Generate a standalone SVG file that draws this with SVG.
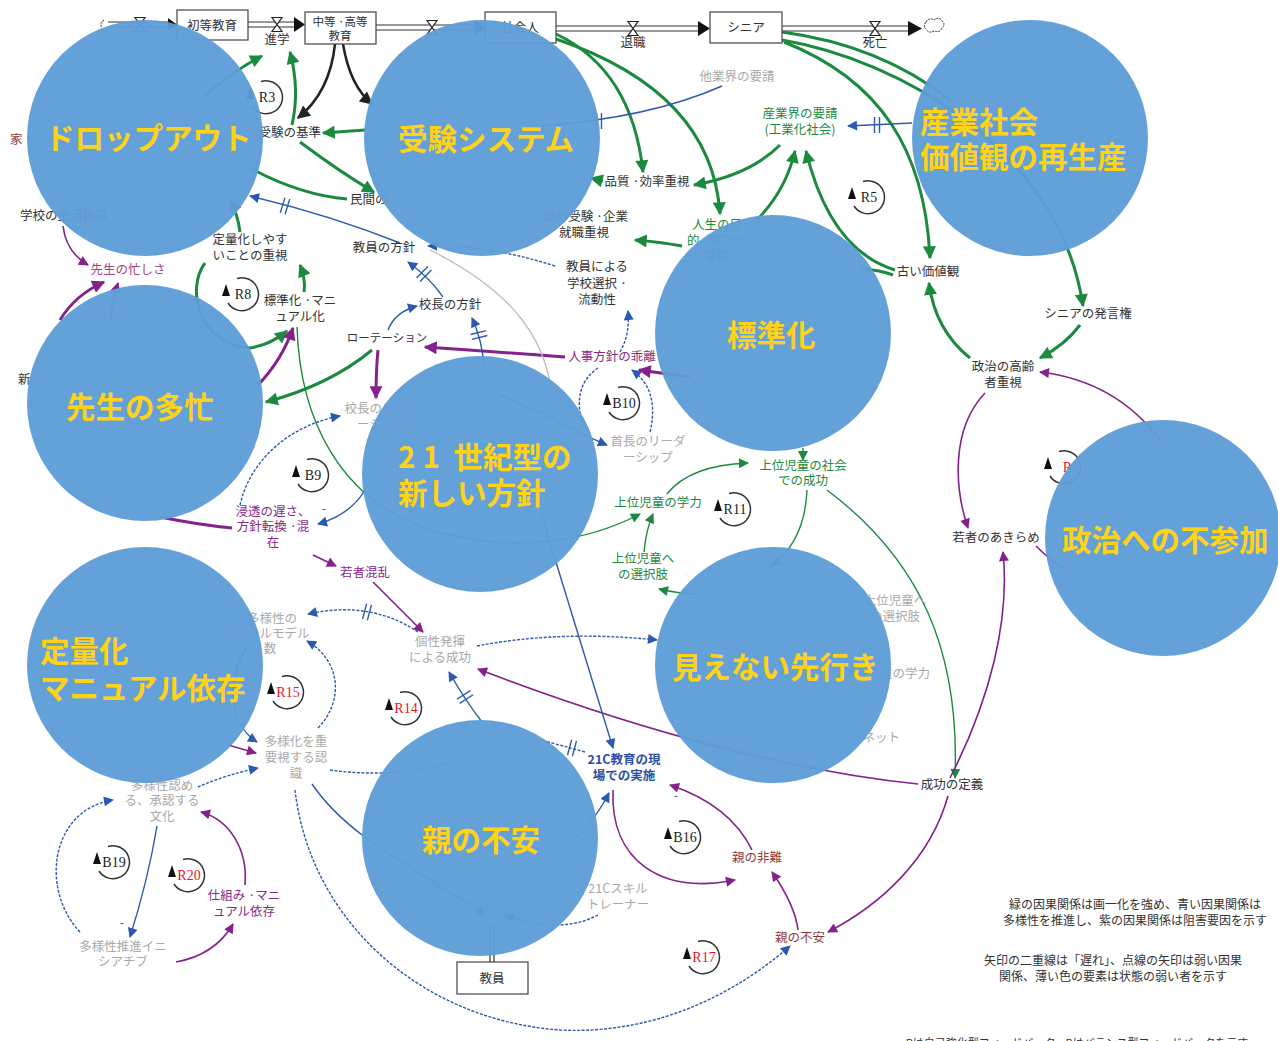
<svg xmlns="http://www.w3.org/2000/svg" xmlns:xlink="http://www.w3.org/1999/xlink" width="1278" height="1041" viewBox="0 0 1278 1041">
<style>
.t{font-family:"Noto Sans CJK JP","Noto Sans",sans-serif;font-size:12.5px;fill:#333;text-anchor:middle}
.s{text-anchor:start}.e{text-anchor:end}
.g{fill:#1b8a3e}.p{fill:#862a8a}.gr{fill:#a9a9a9}.dr{fill:#8b3a3a}.bl{fill:#2b4fa0;font-weight:700}.mv{fill:#a2467f}
.lt{font-family:"Liberation Serif",serif;font-size:14px;text-anchor:middle;fill:#222}
.red{fill:#e8191e}
.box{fill:#fff;stroke:#444;stroke-width:1.2}
.pipe{stroke:#333;stroke-width:1.2;fill:none}
.valve{fill:#fff;stroke:#222;stroke-width:1.2}
.lg{fill:none;stroke:#1b8a3e;stroke-width:3}
.lgt{fill:none;stroke:#1b8a3e;stroke-width:1.4}
.lb{fill:none;stroke:#2c59b0;stroke-width:1.4}
.dash{stroke-dasharray:3 1.5}
.lp{fill:none;stroke:#84218b;stroke-width:3}
.lpt{fill:none;stroke:#84218b;stroke-width:1.6}
.lk{fill:none;stroke:#222;stroke-width:2.5}
.lgray{fill:none;stroke:#bdbdbd;stroke-width:1.3}
.circ{fill:#5e9dd6;fill-opacity:0.96}
.big{font-family:"Noto Sans CJK JP","Noto Sans",sans-serif;font-weight:700;font-size:29.5px;fill:#FFD21A}
.leg{font-family:"Noto Sans CJK JP","Noto Sans",sans-serif;font-size:12px;fill:#333;text-anchor:middle}
</style>
<defs>
<marker id="ag" viewBox="0 0 10 10" refX="9" refY="5" markerWidth="15" markerHeight="13" orient="auto" markerUnits="userSpaceOnUse"><path d="M0,0 L10,5 L0,10 z" fill="#1b8a3e"/></marker>
<marker id="agt" viewBox="0 0 10 10" refX="9" refY="5" markerWidth="12" markerHeight="10" orient="auto" markerUnits="userSpaceOnUse"><path d="M0,0 L10,5 L0,10 z" fill="#1b8a3e"/></marker>
<marker id="ab" viewBox="0 0 10 10" refX="9" refY="5" markerWidth="12" markerHeight="10" orient="auto" markerUnits="userSpaceOnUse"><path d="M0,0 L10,5 L0,10 z" fill="#2c59b0"/></marker>
<marker id="ap" viewBox="0 0 10 10" refX="9" refY="5" markerWidth="15" markerHeight="13" orient="auto" markerUnits="userSpaceOnUse"><path d="M0,0 L10,5 L0,10 z" fill="#84218b"/></marker>
<marker id="apt" viewBox="0 0 10 10" refX="9" refY="5" markerWidth="12" markerHeight="10" orient="auto" markerUnits="userSpaceOnUse"><path d="M0,0 L10,5 L0,10 z" fill="#84218b"/></marker>
<marker id="ak" viewBox="0 0 10 10" refX="9" refY="5" markerWidth="15" markerHeight="13" orient="auto" markerUnits="userSpaceOnUse"><path d="M0,0 L10,5 L0,10 z" fill="#222"/></marker>
<g id="loop"><path d="M -13 9 A 16.5 16.5 0 1 0 -4 -15.5" fill="none" stroke="#333" stroke-width="1.5"/><path d="M -19 2 L -11 2 L -15 -10 z" fill="#111"/></g>
<g id="bar"><path d="M -2.5 -8 L -2.5 8 M 2.5 -8 L 2.5 8" stroke="#2c59b0" stroke-width="1.4" fill="none"/></g>
<path id="valveShape" d="M -5 -7 L 5 -7 L -5 7 L 5 7 Z"/>
</defs>

<rect width="1278" height="1041" fill="#fff"/>

<g id="connectors">
  <path class="pipe" d="M 108 22 L 170 22 M 108 27 L 170 27"/>
  <path d="M 168 18 L 177 24.5 L 168 31 z" fill="#111"/>
  <path class="pipe" d="M 248 22 L 297 22 M 248 27 L 297 27"/>
  <path d="M 294 17 L 305 24.5 L 294 32 z" fill="#111"/>
  <path class="pipe" d="M 376 25 L 477 25 M 376 30 L 477 30"/>
  <path d="M 475 20 L 485 27.5 L 475 35 z" fill="#111"/>
  <path class="pipe" d="M 556 26 L 700 26 M 556 31 L 700 31"/>
  <path d="M 698 21 L 710 28.5 L 698 36 z" fill="#111"/>
  <path class="pipe" d="M 782 26 L 912 26 M 782 31 L 912 31"/>
  <path d="M 908 21 L 922 28.5 L 908 36 z" fill="#111"/>
  <use href="#valveShape" class="valve" x="140" y="24.5"/>
  <use href="#valveShape" class="valve" x="277" y="24.5"/>
  <use href="#valveShape" class="valve" x="432" y="27.5"/>
  <use href="#valveShape" class="valve" x="633" y="28.5"/>
  <use href="#valveShape" class="valve" x="875" y="28.5"/>
  <path d="M 926 22 q 3 -5 8 -2 q 5 -4 8 1 q 4 3 0 7 q -2 5 -8 3 q -5 3 -8 -2 q -3 -3 0 -7 z" fill="#fff" stroke="#333" stroke-width="1" stroke-dasharray="2 1"/>
  <path d="M 104 20 q -5 3 -2 8" fill="none" stroke="#333" stroke-width="1" stroke-dasharray="2 1"/>

  <path class="lg" d="M 205 95 Q 238 68 262 56" marker-end="url(#ag)"/>
  <path class="lg" d="M 292 125 Q 300 90 290 52" marker-end="url(#ag)"/>
  <path class="lk" d="M 335 44 Q 330 92 298 118" marker-end="url(#ak)"/>
  <path class="lk" d="M 343 44 Q 350 86 372 104" marker-end="url(#ak)"/>
  <path class="lg" d="M 365 130 L 323 133" marker-end="url(#ag)"/>
  <path class="lg" d="M 300 142 Q 340 172 374 192" marker-end="url(#ag)"/>
  <path class="lg" d="M 250 168 Q 300 195 347 199"/>
  <path class="lg" d="M 240 232 Q 238 215 230 200" marker-end="url(#ag)"/>
  <path class="lg" d="M 205 263 C 185 290, 200 345, 250 348 Q 270 345 287 331" marker-end="url(#ag)"/>
  <path class="lg" d="M 304 292 Q 306 280 300 265" marker-end="url(#ag)"/>
  <path class="lg" d="M 372 350 Q 330 385 266 402" marker-end="url(#ag)"/>
  <path class="lgt" d="M 297 327 C 300 420, 340 500, 430 530 C 520 555, 590 540, 640 514" marker-end="url(#agt)"/>
  <path class="lg" d="M 780 145 Q 750 175 694 185" marker-end="url(#ag)"/>
  <path class="lg" d="M 556 34 Q 632 70 643 172" marker-end="url(#ag)"/>
  <path class="lg" d="M 556 39 Q 712 92 720 214" marker-end="url(#ag)"/>
  <path class="lg" d="M 757 220 Q 786 190 795 151" marker-end="url(#ag)"/>
  <path class="lg" d="M 895 270 Q 830 250 806 151" marker-end="url(#ag)"/>
  <path class="lg" d="M 603 181 L 591 178" marker-end="url(#ag)"/>
  <path class="lg" d="M 682 246 Q 660 242 635 240" marker-end="url(#ag)"/>
  <path class="lg" d="M 782 32 Q 880 45 950 100"/>
  <path class="lg" d="M 784 42 C 880 80, 925 150, 930 258" marker-end="url(#ag)"/>
  <path class="lg" d="M 782 40 C 900 60, 1060 150, 1083 306" marker-end="url(#ag)"/>
  <path class="lg" d="M 1080 325 Q 1065 345 1040 358" marker-end="url(#ag)"/>
  <path class="lg" d="M 970 358 Q 935 330 929 283" marker-end="url(#ag)"/>
  <path class="lg" d="M 893 275 Q 880 270 862 269"/>
  <path class="lgt" d="M 803 448 L 803 460" marker-end="url(#agt)"/>
  <path class="lgt" d="M 667 494 Q 690 465 748 463" marker-end="url(#agt)"/>
  <path class="lgt" d="M 644 552 Q 646 530 653 514" marker-end="url(#agt)"/>
  <path class="lgt" d="M 700 594 Q 680 594 659 589" marker-end="url(#agt)"/>
  <path class="lgt" d="M 807 490 Q 805 540 772 566" marker-end="url(#agt)"/>
  <path class="lgt" d="M 827 490 C 920 560, 960 650, 955 778" marker-end="url(#agt)"/>

  <path class="lp" d="M 258 385 Q 282 360 293 328" marker-end="url(#ap)"/>
  <path class="lp" d="M 565 357 Q 500 352 425 347" marker-end="url(#ap)"/>
  <path class="lp" d="M 378 350 Q 376 370 376 398" marker-end="url(#ap)"/>
  <path class="lp" d="M 690 377 L 639 370" marker-end="url(#ap)"/>
  <path class="lp" d="M 232 528 Q 200 525 160 517"/>
  <path class="lpt" d="M 63 226 Q 66 252 88 265" marker-end="url(#apt)"/>
  <path class="lp" d="M 60 320 Q 75 295 104 282" marker-end="url(#ap)"/>
  <path class="lpt" d="M 110 320 Q 113 300 118 283" marker-end="url(#apt)"/>
  <path class="lpt" d="M 918 784 C 800 772, 650 735, 478 669" marker-end="url(#apt)"/>
  <path class="lpt" d="M 373 582 L 423 632" marker-end="url(#apt)"/>
  <path class="lpt" d="M 313 555 L 336 566" marker-end="url(#apt)"/>
  <path class="lpt" d="M 228 745 L 256 753" marker-end="url(#apt)"/>
  <path class="lpt" d="M 245 885 C 248 850, 230 820, 201 812" marker-end="url(#apt)"/>
  <path class="lpt" d="M 176 962 Q 215 955 233 924" marker-end="url(#apt)"/>
  <path class="lpt" d="M 613 790 C 610 860, 660 895, 735 880" marker-end="url(#apt)"/>
  <path class="lpt" d="M 752 850 Q 730 805 670 785" marker-end="url(#apt)"/>
  <path class="lpt" d="M 798 930 Q 795 905 772 872" marker-end="url(#apt)"/>
  <path class="lpt" d="M 948 796 C 930 860, 880 905, 828 932" marker-end="url(#apt)"/>
  <path class="lpt" d="M 950 778 C 990 700, 1010 620, 1003 552" marker-end="url(#apt)"/>
  <path class="lpt" d="M 985 393 C 950 430, 955 490, 968 528" marker-end="url(#apt)"/>
  <path class="lpt" d="M 1160 440 C 1130 400, 1090 378, 1040 372" marker-end="url(#apt)"/>
  <path class="lpt" d="M 1036 546 Q 1050 560 1065 570"/>

  <path class="lb" d="M 400 243 Q 330 215 250 196" marker-end="url(#ab)"/>
  <use href="#bar" transform="translate(285,206) rotate(17)"/>
  <path class="lb dash" d="M 555 266 Q 490 245 428 246" marker-end="url(#ab)"/>
  <path class="lb" d="M 443 297 Q 430 278 408 262" marker-end="url(#ab)"/>
  <use href="#bar" transform="translate(424,274) rotate(45)"/>
  <path class="lb" d="M 388 330 Q 395 312 417 306" marker-end="url(#ab)"/>
  <path class="lb" d="M 484 365 Q 482 340 472 318" marker-end="url(#ab)"/>
  <use href="#bar" transform="translate(479,335) rotate(76)"/>
  <path class="lb dash" d="M 620 352 Q 630 335 628 311" marker-end="url(#ab)"/>
  <path class="lb" d="M 722 86 Q 650 118 540 126"/>
  <use href="#bar" transform="translate(599,121)"/>
  <path class="lb" d="M 912 123 L 848 126" marker-end="url(#ab)"/>
  <use href="#bar" transform="translate(877,125)"/>
  <path class="lb dash" d="M 650 432 Q 660 390 632 370" marker-end="url(#ab)"/>
  <path class="lb dash" d="M 598 368 C 580 380, 575 400, 583 425"/>
  <path class="lb" d="M 500 395 C 540 410, 570 430, 607 445" marker-end="url(#ab)"/>
  <path class="lb dash" d="M 240 505 C 250 460, 290 425, 340 416" marker-end="url(#ab)"/>
  <path class="lb" d="M 365 490 Q 350 515 318 524" marker-end="url(#ab)"/>
  <path class="lb dash" d="M 418 632 Q 370 600 308 614" marker-end="url(#ab)"/>
  <use href="#bar" transform="translate(367,612) rotate(15)"/>
  <path class="lb dash" d="M 477 646 Q 560 630 657 640" marker-end="url(#ab)"/>
  <path class="lb dash" d="M 318 728 C 345 700, 340 660, 307 641" marker-end="url(#ab)"/>
  <path class="lb" d="M 482 722 Q 465 700 449 672" marker-end="url(#ab)"/>
  <use href="#bar" transform="translate(465,697) rotate(57)"/>
  <path class="lb" d="M 540 510 L 613 748" marker-end="url(#ab)"/>
  <path class="lb dash" d="M 585 752 Q 560 745 540 740"/>
  <use href="#bar" transform="translate(572,748) rotate(15)"/>
  <path class="lb dash" d="M 330 770 Q 400 780 470 757"/>
  <path class="lb" d="M 248 645 C 225 680, 230 725, 257 742" marker-end="url(#ab)"/>
  <path class="lb dash" d="M 198 787 Q 225 775 258 768" marker-end="url(#ab)"/>
  <path class="lb" d="M 157 826 Q 148 880 130 937" marker-end="url(#ab)"/>
  <path class="lb dash" d="M 80 932 C 40 890, 50 810, 113 800" marker-end="url(#ab)"/>
  <path class="lb dash" d="M 295 790 C 310 920, 420 1020, 560 1030 C 660 1035, 740 990, 790 946" marker-end="url(#ab)"/>
  <path class="lb" d="M 312 784 C 350 840, 420 870, 485 915" marker-end="url(#ab)"/>
  <path class="lb" d="M 560 850 Q 590 830 609 793" marker-end="url(#ab)"/>
  <path class="lb dash" d="M 598 915 Q 560 935 505 915" marker-end="url(#ab)"/>
  <path class="lgray" d="M 430 250 C 510 290, 555 340, 553 420"/>
  <path class="pipe" d="M 490 962 L 490 925 M 494 962 L 494 925"/>
</g>

<g id="stocks">
  <g id="n-shoto"><rect class="box" x="177" y="10" width="71" height="30"/><text class="t" x="212" y="30">初等教育</text></g>
  <g id="n-chuto"><rect class="box" x="305" y="12" width="71" height="32"/><text class="t" x="340" y="26" style="font-size:11.5px">中等 ·高等</text><text class="t" x="340" y="40" style="font-size:11.5px">教育</text></g>
  <g id="n-shakaijin"><rect class="box" x="485" y="12" width="71" height="31"/><text class="t" x="520" y="32">社会人</text></g>
  <g id="n-senior"><rect class="box" x="710" y="12" width="72" height="31"/><text class="t" x="746" y="32">シニア</text></g>
  <g id="n-kyoin"><rect class="box" x="457" y="962" width="71" height="32"/><text class="t" x="492" y="983">教員</text></g>
</g>

<g id="labels">
  <g id="f-shingaku"><text class="t" x="277" y="44">進学</text></g>
  <g id="f-taishoku"><text class="t" x="633" y="47">退職</text></g>
  <g id="f-shibo"><text class="t" x="875" y="47">死亡</text></g>
  <g id="n-juken-kijun"><text class="t e" x="321" y="137">受験の基準</text></g>
  <g id="n-minkan"><text class="t s" x="350" y="204">民間の</text></g>
  <g id="n-katei"><text class="t s dr" x="10" y="144">家</text></g>
  <g id="n-seikatsu"><text class="t s" x="20" y="220">学校の生活指導</text></g>
  <g id="n-isogashisa"><text class="t mv" x="128" y="274">先生の忙しさ</text></g>
  <g id="n-teiryoka"><text class="t" x="250" y="244">定量化しやす</text><text class="t" x="250" y="260">いことの重視</text></g>
  <g id="n-hyojunka"><text class="t" x="300" y="305">標準化 ·マニ</text><text class="t" x="300" y="321">ュアル化</text></g>
  <g id="n-kyoin-hoshin"><text class="t" x="384" y="252">教員の方針</text></g>
  <g id="n-rotation"><text class="t" x="387" y="342" style="font-size:11.5px">ローテーション</text></g>
  <g id="n-kocho-hoshin"><text class="t" x="450" y="309">校長の方針</text></g>
  <g id="n-gakko-sentaku"><text class="t" x="597" y="271">教員による</text><text class="t" x="597" y="288">学校選択 ·</text><text class="t" x="597" y="304">流動性</text></g>
  <g id="n-oya-juken"><text class="t e" x="628" y="221">親の受験 ·企業</text><text class="t" x="584" y="237">就職重視</text></g>
  <g id="n-hinshitsu"><text class="t" x="647" y="186">品質 ·効率重視</text></g>
  <g id="n-tagyokai"><text class="t gr" x="737" y="81">他業界の要請</text></g>
  <g id="n-sangyokai"><text class="t g" x="800" y="118">産業界の要請</text><text class="t g" x="800" y="134">(工業化社会)</text></g>
  <g id="n-jinsei"><text class="t g" x="717" y="229">人生の目</text><text class="t g" x="717" y="245">的 ·成功の</text><text class="t g" x="717" y="261">意識</text></g>
  <g id="n-furui"><text class="t" x="928" y="276">古い価値観</text></g>
  <g id="n-senior-hatsugen"><text class="t" x="1088" y="318">シニアの発言権</text></g>
  <g id="n-seiji-koreisha"><text class="t" x="1003" y="371">政治の高齢</text><text class="t" x="1003" y="387">者重視</text></g>
  <g id="n-akirame"><text class="t" x="996" y="542">若者のあきらめ</text></g>
  <g id="n-seiko-teigi"><text class="t" x="952" y="789">成功の定義</text></g>
  <g id="n-jinji"><text class="t p" x="612" y="361">人事方針の乖離</text></g>
  <g id="n-shucho"><text class="t gr" x="648" y="446">首長のリーダ</text><text class="t gr" x="648" y="462">ーシップ</text></g>
  <g id="n-kocho-leader"><text class="t gr" x="382" y="413">校長のリーダ</text><text class="t gr" x="382" y="429">ーシップ</text></g>
  <g id="n-shinto"><text class="t p" x="273" y="516">浸透の遅さ、</text><text class="t p" x="273" y="531">方針転換 ·混</text><text class="t p" x="273" y="547">在</text></g>
  <g id="n-wakamono-konran"><text class="t p" x="365" y="577">若者混乱</text></g>
  <g id="n-joi-gakuryoku"><text class="t g" x="658" y="507">上位児童の学力</text></g>
  <g id="n-joi-shakai"><text class="t g" x="803" y="470">上位児童の社会</text><text class="t g" x="803" y="485">での成功</text></g>
  <g id="n-joi-sentaku"><text class="t g" x="643" y="563">上位児童へ</text><text class="t g" x="643" y="579">の選択肢</text></g>
  <g id="n-joi-sentaku2"><text class="t gr" x="895" y="605">上位児童へ</text><text class="t gr" x="895" y="621">の選択肢</text></g>
  <g id="n-joi-gakuryoku2"><text class="t gr e" x="930" y="678">上位児童の学力</text></g>
  <g id="n-net"><text class="t gr e" x="900" y="742">ネット</text></g>
  <g id="n-rolemodel"><text class="t gr" x="272" y="623">多様性の</text><text class="t gr" x="272" y="638">ロールモデル</text><text class="t gr" x="270" y="653">数</text></g>
  <g id="n-kosei"><text class="t gr" x="440" y="646">個性発揮</text><text class="t gr" x="440" y="662">による成功</text></g>
  <g id="n-tayoka-ninshiki"><text class="t gr" x="296" y="746">多様化を重</text><text class="t gr" x="296" y="762">要視する認</text><text class="t gr" x="296" y="778">識</text></g>
  <g id="n-tayosei-bunka"><text class="t gr" x="162" y="790">多様性認め</text><text class="t gr" x="162" y="805">る、承認する</text><text class="t gr" x="162" y="821">文化</text></g>
  <g id="n-shikumi"><text class="t p" x="244" y="900">仕組み ·マニ</text><text class="t p" x="244" y="916">ュアル依存</text></g>
  <g id="n-initiative"><text class="t gr" x="123" y="951">多様性推進イニ</text><text class="t gr" x="123" y="966">シアチブ</text></g>
  <g id="n-21c-genba"><text class="t bl" x="624" y="764">21C教育の現</text><text class="t bl" x="624" y="780">場での実施</text></g>
  <g id="n-21c-skill"><text class="t gr" x="618" y="893">21Cスキル</text><text class="t gr" x="618" y="909">トレーナー</text></g>
  <g id="n-oya-hinan"><text class="t dr" x="757" y="862">親の非難</text></g>
  <g id="n-oya-fuan"><text class="t dr" x="800" y="942">親の不安</text></g>
  <g id="n-shin"><text class="t s" x="18" y="384">新</text></g>
  <text class="t" x="324" y="513" style="fill:#2c59b0">-</text>
  <text class="t" x="122" y="927" style="fill:#2c59b0">-</text>
  <text class="t" x="676" y="800" style="fill:#2c59b0">-</text>
</g>

<g id="loops">
  <g id="loop-R3"><use href="#loop" x="265" y="97"/><text class="lt g" x="267" y="102">R3</text></g>
  <g id="loop-R8"><use href="#loop" x="241" y="294"/><text class="lt g" x="243" y="299">R8</text></g>
  <g id="loop-R5"><use href="#loop" x="867" y="197"/><text class="lt g" x="869" y="202">R5</text></g>
  <g id="loop-B10"><use href="#loop" x="622" y="403"/><text class="lt" x="624" y="408">B10</text></g>
  <g id="loop-B9"><use href="#loop" x="311" y="475"/><text class="lt" x="313" y="480">B9</text></g>
  <g id="loop-R11"><use href="#loop" x="733" y="509"/><text class="lt g" x="735" y="514">R11</text></g>
  <g id="loop-R7"><use href="#loop" x="1063" y="467"/><text class="lt red" x="1071" y="472">R7</text></g>
  <g id="loop-R15"><use href="#loop" x="286" y="692"/><text class="lt red" x="288" y="697">R15</text></g>
  <g id="loop-R14"><use href="#loop" x="404" y="708"/><text class="lt red" x="406" y="713">R14</text></g>
  <g id="loop-B16"><use href="#loop" x="683" y="837"/><text class="lt p" x="685" y="842">B16</text></g>
  <g id="loop-R17"><use href="#loop" x="702" y="957"/><text class="lt red" x="704" y="962">R17</text></g>
  <g id="loop-B19"><use href="#loop" x="112" y="862"/><text class="lt" x="114" y="867">B19</text></g>
  <g id="loop-R20"><use href="#loop" x="187" y="875"/><text class="lt red" x="189" y="880">R20</text></g>
</g>

<g id="legend">
  <text class="leg" x="1135" y="909">緑の因果関係は画一化を強め、青い因果関係は</text>
  <text class="leg" x="1135" y="925">多様性を推進し、紫の因果関係は阻害要因を示す</text>
  <text class="leg" x="1113" y="965">矢印の二重線は「遅れ」、点線の矢印は弱い因果</text>
  <text class="leg" x="1113" y="981">関係、薄い色の要素は状態の弱い者を示す</text>
  <text class="leg" x="1077" y="1047" style="font-size:11px">Rは自己強化型フィードバック、Bはバランス型フィードバックを示す</text>
</g>

<g id="themes">
  <g id="c-dropout"><circle class="circ" cx="145" cy="138" r="118"/><text class="big" x="45" y="149">ドロップアウト</text></g>
  <g id="c-juken"><circle class="circ" cx="482" cy="138" r="118"/><text class="big" x="398" y="150">受験システム</text></g>
  <g id="c-sangyo"><circle class="circ" cx="1030" cy="138" r="118"/><text class="big" x="920" y="133">産業社会</text><text class="big" x="920" y="168">価値観の再生産</text></g>
  <g id="c-hyojunka"><circle class="circ" cx="773" cy="333" r="118"/><text class="big" x="727" y="346">標準化</text></g>
  <g id="c-tabo"><circle class="circ" cx="145" cy="403" r="118"/><text class="big" x="66" y="418">先生の多忙</text></g>
  <g id="c-21c"><circle class="circ" cx="480" cy="474" r="118"/><text class="big" x="398" y="468"><tspan letter-spacing="7">21</tspan> 世紀型の</text><text class="big" x="398" y="504">新しい方針</text></g>
  <g id="c-seiji"><circle class="circ" cx="1163" cy="538" r="118"/><text class="big" x="1062" y="551">政治への不参加</text></g>
  <g id="c-teiryo"><circle class="circ" cx="145" cy="665" r="118"/><text class="big" x="40" y="662">定量化</text><text class="big" x="40" y="699">マニュアル依存</text></g>
  <g id="c-mienai"><circle class="circ" cx="773" cy="665" r="118"/><text class="big" x="672" y="678">見えない先行き</text></g>
  <g id="c-oya"><circle class="circ" cx="480" cy="838" r="118"/><text class="big" x="422" y="851">親の不安</text></g>
</g>
</svg>
